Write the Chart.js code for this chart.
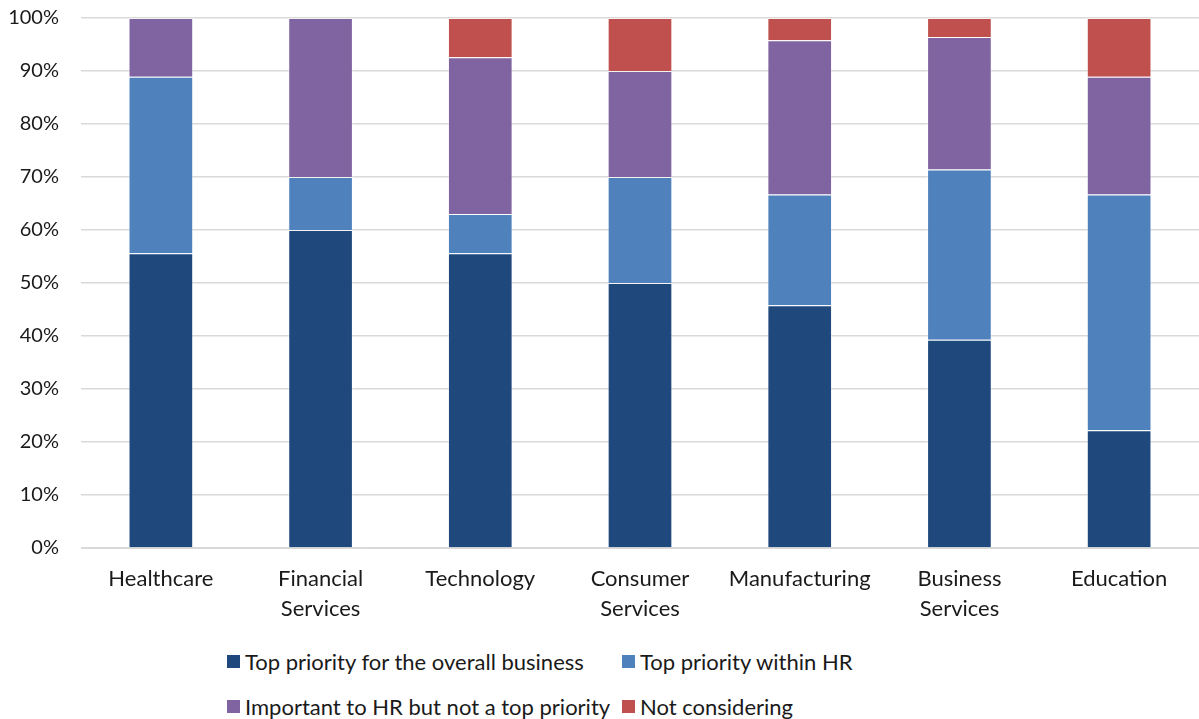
<!DOCTYPE html>
<html>
<head>
<meta charset="utf-8">
<script src="https://cdn.jsdelivr.net/npm/chart.js@4/dist/chart.umd.min.js"></script>
<style>
  body { margin:0; background:#fff; font-family: Lato, "Open Sans", sans-serif; }
  #wrap { position:relative; width:1199px; height:635px; }
  #legend { position:absolute; left:0; top:640px; width:1199px; height:79px; font-size:22px; color:#1a1a1a; }
  .li { position:absolute; display:flex; align-items:center; white-space:nowrap; }
  .li span.box { width:13px; height:13px; margin-right:5px; display:inline-block; }
</style>
</head>
<body>
<div id="wrap"><canvas id="chart"></canvas></div>
<div id="legend"></div>
<script>
const categories = [['Healthcare'], ['Financial', 'Services'], ['Technology'], ['Consumer', 'Services'], ['Manufacturing'], ['Business', 'Services'], ['Education']];
const seriesNames = ['Top priority for the overall business', 'Top priority within HR', 'Important to HR but not a top priority', 'Not considering'];
const topBusiness = [55.6, 60, 55.6, 50, 45.8, 39.3, 22.2];
const topHR = [33.3, 10, 7.4, 20, 20.9, 32.1, 44.5];
const importantHR = [11.1, 30, 29.6, 20, 29.1, 25.0, 22.2];
const notConsidering = [0, 0, 7.4, 10, 4.2, 3.6, 11.1];
const colors = ['#1F497D', '#4F81BD', '#8064A2', '#C0504D'];

const values = [topBusiness, topHR, importantHR, notConsidering];

const ctx = document.getElementById('chart').getContext('2d');
new Chart(ctx, {
  type: 'bar',
  data: {
    labels: categories,
    datasets: values.map((v, i) => ({
      label: seriesNames[i], data: v, backgroundColor: colors[i],
      borderColor: 'rgba(255,255,255,0.35)', borderWidth: 1,
      barPercentage: 0.405, categoryPercentage: 1
    }))
  },
  options: {
    responsive: true, maintainAspectRatio: false, animation: false,
    layout: { padding: 0 },
    plugins: { legend: { display: false }, tooltip: { enabled: false } },
    scales: {
      x: {
        stacked: true,
        grid: { display: false },
        border: { color: '#d9d9d9', width: 1 },
        ticks: { color: '#1a1a1a', font: { family: 'Lato', size: 22, lineHeight: 1.36 }, padding: 8, maxRotation: 0 },
        afterFit: s => { s.height = 87; }
      },
      y: {
        stacked: true, min: 0, max: 100,
        grid: { color: '#d9d9d9', lineWidth: 1.5, drawTicks: false },
        border: { display: false },
        ticks: { stepSize: 10, color: '#1a1a1a', font: { family: 'Lato', size: 20 }, padding: 22, callback: v => v + '%' },
        // tick padding would otherwise push the plot top down
        afterFit: s => { s.width = 81; s.paddingTop = 18; s.paddingBottom = 0; }
      }
    }
  }
});

// legend laid out in two columns like the original
const legendEl = document.getElementById('legend');
const pos = [[227, 22], [622, 22], [227, 67], [622, 67]];
seriesNames.forEach((name, i) => {
  const d = document.createElement('div');
  d.className = 'li';
  d.style.left = pos[i][0] + 'px';
  d.style.top = (pos[i][1] - 14) + 'px';
  d.innerHTML = '<span class="box" style="background:' + colors[i] + '"></span>' + name;
  legendEl.appendChild(d);
});
</script>
</body>
</html>
